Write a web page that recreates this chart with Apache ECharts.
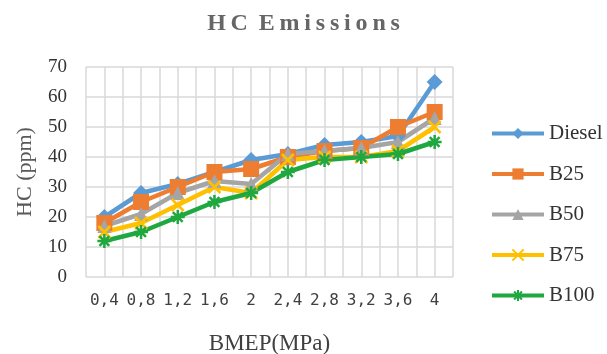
<!DOCTYPE html>
<html><head><meta charset="utf-8">
<script src="https://cdn.jsdelivr.net/npm/echarts@6/dist/echarts.min.js"></script>
<style>html,body{margin:0;padding:0;background:#fff}#c{width:607px;height:354px}</style>
</head><body><div id="c"></div>
<script>
var categories = ['0,4','0,8','1,2','1,6','2','2,4','2,8','3,2','3,6','4'];
var diesel = [20, 28, 31, 35, 39, 41, 44, 45, 47, 65];
var b25    = [18, 25, 30, 35, 36, 40, 42, 43, 50, 55];
var b50    = [17, 21, 28, 32, 31, 41, 42, 43, 45, 53];
var b75    = [15, 18, 24, 30, 28, 39, 40, 40, 42, 50];
var b100   = [12, 15, 20, 25, 28, 35, 39, 40, 41, 45];
var yTicks = [0, 10, 20, 30, 40, 50, 60, 70];

var serif = '"Liberation Serif","DejaVu Serif",serif';
var chart = echarts.init(document.getElementById('c'));
function mk(name, data, color, symbol, size, stroke) {
  return {
    name: name, type: 'line', data: data, xAxisIndex: 0,
    symbol: symbol, symbolSize: size,
    lineStyle: {width: 4.5, color: color},
    itemStyle: stroke ? {color: color, borderColor: color, borderWidth: 2.5} : {color: color},
    z: 3
  };
}
var ts = '\u2009';
var titleText = 'HC'.split('').join(ts) + ' ' + ts + 'Emissions'.split('').join(ts);
chart.setOption({
  animation: false,
  title: {
    text: titleText, left: 'center', top: 7,
    textStyle: {fontFamily: serif, fontSize: 24, fontWeight: 'bold', color: '#666666'}
  },
  grid: {left: 86, right: 154, top: 67, bottom: 77, outerBoundsMode: 'none', containLabel: false},
  legend: {
    orient: 'vertical', left: 485, top: 118, itemWidth: 52, itemHeight: 14, itemGap: 19.5,
    lineStyle: {width: 4},
    textStyle: {fontFamily: serif, fontSize: 21, color: '#333'},
    data: ['Diesel','B25','B50','B75','B100']
  },
  xAxis: [{
    type: 'category', data: categories, boundaryGap: true,
    axisLine: {show: false}, axisTick: {show: false},
    axisLabel: {fontFamily: '"DejaVu Sans Mono",monospace', fontSize: 16, color: '#404040', margin: 16, interval: 0},
    splitLine: {show: false},
    name: 'BMEP(MPa)', nameLocation: 'middle', nameGap: 55,
    nameTextStyle: {fontFamily: serif, fontSize: 23, color: '#404040'}
  }, {
    type: 'value', min: 0, max: 20, interval: 1, show: true, position: 'bottom',
    axisLine: {show: false}, axisTick: {show: false}, axisLabel: {show: false},
    splitLine: {show: true, lineStyle: {color: '#d9d9d9', width: 1.5}}
  }],
  yAxis: {
    type: 'value', min: yTicks[0], max: yTicks[yTicks.length-1], interval: 10,
    axisLine: {show: false}, axisTick: {show: false},
    axisLabel: {fontFamily: serif, fontSize: 19, color: '#333', margin: 19},
    splitLine: {lineStyle: {color: '#d9d9d9', width: 1.5}},
    name: 'HC (ppm)', nameLocation: 'middle', nameGap: 50,
    nameTextStyle: {fontFamily: serif, fontSize: 22, color: '#595959'}
  },
  series: [
    mk('Diesel', diesel, '#5B9BD5', 'diamond', 16),
    mk('B25', b25, '#ED7D31', 'rect', 16),
    mk('B50', b50, '#A5A5A5', 'triangle', 14),
    mk('B75', b75, '#FFC000', 'path://M0,0L10,10M10,0L0,10', 12, true),
    mk('B100', b100, '#1FA83F', 'path://M5,0L5,10M0,5L10,5M1.5,1.5L8.5,8.5M8.5,1.5L1.5,8.5', 14, true)
  ]
});
</script></body></html>
